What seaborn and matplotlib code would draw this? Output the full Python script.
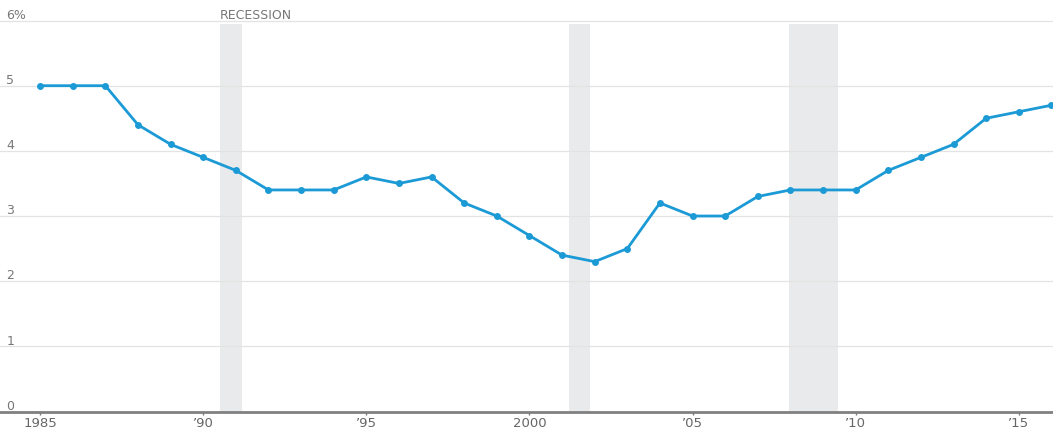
import matplotlib
matplotlib.use("Agg")
import matplotlib.pyplot as plt
import seaborn as sns
import pandas as pd

years = list(range(1985, 2017))
rate = [5.0, 5.0, 5.0, 4.4, 4.1, 3.9, 3.7, 3.4, 3.4, 3.4,
        3.6, 3.5, 3.6, 3.2, 3.0, 2.7, 2.4, 2.3, 2.5, 3.2,
        3.0, 3.0, 3.3, 3.4, 3.4, 3.4, 3.7, 3.9, 4.1, 4.5,
        4.6, 4.7]

recessions = [(1990.5, 1991.2), (2001.2, 2001.85), (2007.95, 2009.45)]

x_ticks = [1985, 1990, 1995, 2000, 2005, 2010, 2015]
x_labels = ["1985", "\u201990", "\u201995", "2000", "\u201905", "\u201910", "\u201915"]
y_ticks = [0, 1, 2, 3, 4, 5, 6]
y_labels = ["0", "1", "2", "3", "4", "5", "6%"]

sns.set_theme(style="white")
plt.rcParams["font.family"] = ["DejaVu Sans"]

df = pd.DataFrame({"year": years, "rate": rate})

fig = plt.figure(figsize=(10.53, 4.31), dpi=100)
ax = fig.add_axes([0, 18.5 / 431, 1, 410.5 / 431])

# recession shading
for start, end in recessions:
    ax.axvspan(start, end, ymin=0, ymax=5.95 / 6.3, color="#e9eaeb", lw=0, zorder=0)
ax.annotate("RECESSION", xy=(recessions[0][0], 6), xytext=(0, 2),
            textcoords="offset points", fontsize=9, color="#777777",
            ha="left", va="baseline")

# horizontal gridlines and value labels
for v, lab in zip(y_ticks, y_labels):
    if v > 0:
        ax.axhline(v, color="#e3e3e3", lw=0.9, zorder=1)
    ax.annotate(lab, xy=(1983.96, v), xytext=(0, 2), textcoords="offset points",
                fontsize=9, color="#777777", ha="left", va="baseline")

sns.lineplot(data=df, x="year", y="rate", ax=ax, color="#1b9ad6", lw=2,
             marker="o", markersize=5, markeredgewidth=0, zorder=3)

ax.set_xlim(1983.77, 2016.05)
ax.set_ylim(0, 6.3)
ax.set_xticks(x_ticks)
ax.set_xticklabels(x_labels)
ax.set_yticks([])
ax.set_xlabel("")
ax.set_ylabel("")
ax.tick_params(axis="x", bottom=True, length=2.5, width=1, color="#777777",
               labelsize=9.5, labelcolor="#666666", pad=0.5)

for side in ["top", "right", "left"]:
    ax.spines[side].set_visible(False)
ax.spines["bottom"].set_color("#808080")
ax.spines["bottom"].set_linewidth(2)

fig.savefig("out.png", dpi=100)
